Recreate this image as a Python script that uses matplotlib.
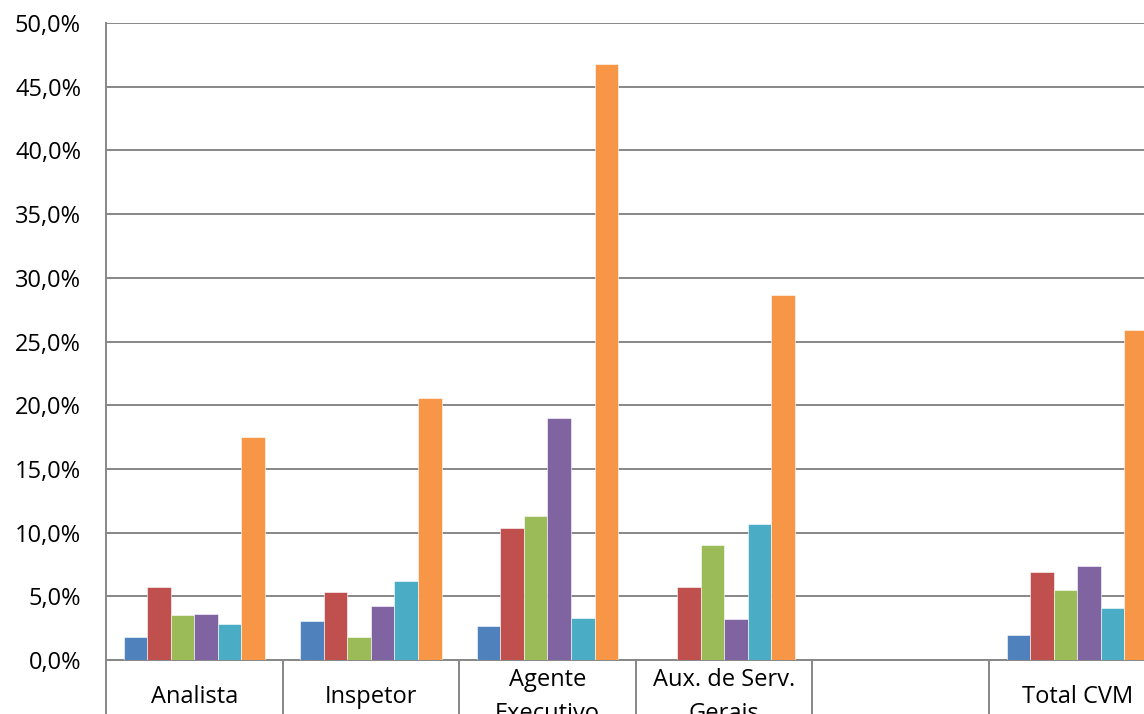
import numpy as np
import matplotlib
matplotlib.use('Agg')
import matplotlib.pyplot as plt
from matplotlib.ticker import FuncFormatter

plt.rcParams['font.family'] = ['Open Sans', 'DejaVu Sans']

# categories on the x axis (one left blank, as in the source sheet)
categorias = ['Analista', 'Inspetor', 'Agente\nExecutivo', 'Aux. de Serv.\nGerais', '', 'Total CVM']

# six series, values in percent
serie1 = [1.8, 3.1, 2.7, 0.0, 0.0, 2.0]
serie2 = [5.7, 5.3, 10.4, 5.7, 0.0, 6.9]
serie3 = [3.5, 1.8, 11.3, 9.0, 0.0, 5.5]
serie4 = [3.6, 4.2, 19.0, 3.2, 0.0, 7.4]
serie5 = [2.85, 6.2, 3.3, 10.7, 0.0, 4.1]
serie6 = [17.5, 20.6, 46.75, 28.65, 0.0, 25.9]

series = [serie1, serie2, serie3, serie4, serie5, serie6]
cores = ['#4F81BD', '#C0504D', '#9BBB59', '#8064A2', '#4BACC6', '#F79646']

fig = plt.figure(figsize=(11.44, 7.14), dpi=100)
# axes runs a bit past the right edge, the source image is cropped there
ax = fig.add_axes([106/1144, 54/714, 1059.6/1144, 637/714])

x = np.arange(len(categorias))
larg = 0.8/len(series)
for i, (vals, cor) in enumerate(zip(series, cores)):
    ax.bar(x + (i - 2.5)*larg, vals, width=larg, color=cor,
           edgecolor='white', linewidth=0.4, zorder=3)

ax.set_xlim(-0.5, len(categorias) - 0.5)
ax.set_ylim(0, 50)
ax.set_yticks(np.arange(0, 50.1, 5))
ax.yaxis.set_major_formatter(FuncFormatter(lambda v, p: ('%.1f%%' % v).replace('.', ',')))
ax.tick_params(axis='y', length=0, pad=18, labelsize=17)
ax.set_xticks([])

ax.grid(axis='y', color='#878787', linewidth=1.4, zorder=0)
for s in ['top', 'right']:
    ax.spines[s].set_visible(False)
ax.spines['left'].set_color('#878787')
ax.spines['left'].set_linewidth(1.4)
ax.spines['bottom'].set_color('#878787')
ax.spines['bottom'].set_linewidth(1.4)

# category table below the axis: separators + labels
trans = ax.get_xaxis_transform()
for b in np.arange(-0.5, len(categorias), 1.0):
    ax.plot([b, b], [0, -0.1], transform=trans, color='#878787',
            linewidth=1.4, clip_on=False)
yl = -37/637
for xi, lab in zip(x, categorias):
    ax.text(xi, yl, lab, transform=trans, ha='center', va='center',
            fontsize=17, linespacing=1.5, clip_on=False)

fig.savefig('out.png', dpi=100)
